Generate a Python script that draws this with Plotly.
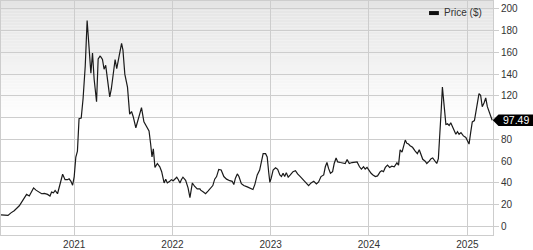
import plotly.graph_objects as go

# ---- data ----
dates = [
    "2020-04-04", "2020-04-30", "2020-05-11", "2020-05-23", "2020-06-11", "2020-06-23",
    "2020-07-08", "2020-07-18", "2020-07-27", "2020-08-03", "2020-08-12", "2020-08-24",
    "2020-09-02", "2020-09-12", "2020-09-24", "2020-10-03", "2020-10-09", "2020-10-16",
    "2020-10-22", "2020-10-31", "2020-11-06", "2020-11-19", "2020-11-28", "2020-12-07",
    "2020-12-13", "2020-12-20", "2020-12-26", "2021-01-01", "2021-01-07", "2021-01-13",
    "2021-01-19", "2021-01-27", "2021-02-03", "2021-02-11", "2021-02-18", "2021-02-25",
    "2021-03-04", "2021-03-10", "2021-03-16", "2021-03-25", "2021-03-31", "2021-04-07",
    "2021-04-10", "2021-04-16", "2021-04-22", "2021-04-28", "2021-05-05", "2021-05-13",
    "2021-05-19", "2021-05-27", "2021-06-02", "2021-06-08", "2021-06-17", "2021-06-26",
    "2021-07-01", "2021-07-08", "2021-07-18", "2021-07-26", "2021-08-02", "2021-08-08",
    "2021-08-18", "2021-08-30", "2021-09-08", "2021-09-17", "2021-09-26", "2021-10-06",
    "2021-10-12", "2021-10-17", "2021-10-22", "2021-10-28", "2021-11-06", "2021-11-15",
    "2021-11-22", "2021-12-01", "2021-12-07", "2021-12-13", "2021-12-22", "2021-12-28",
    "2022-01-04", "2022-01-10", "2022-01-17", "2022-01-23", "2022-01-29", "2022-02-03",
    "2022-02-09", "2022-02-19", "2022-02-28", "2022-03-07", "2022-03-16", "2022-03-24",
    "2022-04-03", "2022-04-13", "2022-04-16", "2022-04-26", "2022-05-04", "2022-05-13",
    "2022-05-23", "2022-05-31", "2022-06-07", "2022-06-14", "2022-06-22", "2022-07-01",
    "2022-07-11", "2022-07-21", "2022-08-02", "2022-08-11", "2022-08-17", "2022-08-23",
    "2022-08-30", "2022-09-05", "2022-09-14", "2022-09-23", "2022-10-06", "2022-10-18",
    "2022-10-27", "2022-11-03", "2022-11-12", "2022-11-21", "2022-11-28", "2022-12-04",
    "2022-12-13", "2022-12-19", "2022-12-25", "2022-12-29", "2023-01-03", "2023-01-10",
    "2023-01-19", "2023-01-27", "2023-02-04", "2023-02-10", "2023-02-16", "2023-02-22",
    "2023-02-28", "2023-03-07", "2023-03-15", "2023-03-25", "2023-04-03", "2023-04-11",
    "2023-04-21", "2023-05-04", "2023-05-14", "2023-05-22", "2023-05-31", "2023-06-10",
    "2023-06-20", "2023-06-28", "2023-07-07", "2023-07-17", "2023-07-23", "2023-07-29",
    "2023-08-04", "2023-08-11", "2023-08-19", "2023-08-25", "2023-09-01", "2023-09-07",
    "2023-09-17", "2023-09-27", "2023-10-05", "2023-10-12", "2023-10-20", "2023-10-30",
    "2023-11-09", "2023-11-18", "2023-11-27", "2023-12-04", "2023-12-12", "2023-12-18",
    "2023-12-25", "2024-01-02", "2024-01-09", "2024-01-16", "2024-01-25", "2024-02-02",
    "2024-02-12", "2024-02-18", "2024-02-24", "2024-03-02", "2024-03-10", "2024-03-18",
    "2024-03-26", "2024-04-04", "2024-04-14", "2024-04-20", "2024-04-24", "2024-04-26",
    "2024-05-03", "2024-05-08", "2024-05-15", "2024-05-21", "2024-05-27", "2024-06-02",
    "2024-06-11", "2024-06-21", "2024-06-29", "2024-07-06", "2024-07-13", "2024-07-19",
    "2024-07-28", "2024-08-03", "2024-08-12", "2024-08-19", "2024-08-25", "2024-08-31",
    "2024-09-09", "2024-09-15", "2024-09-22", "2024-09-26", "2024-09-30", "2024-10-06",
    "2024-10-13", "2024-10-19", "2024-10-25", "2024-10-31", "2024-11-06", "2024-11-12",
    "2024-11-19", "2024-11-25", "2024-12-01", "2024-12-08", "2024-12-17", "2024-12-26",
    "2025-01-02", "2025-01-07", "2025-01-13", "2025-01-19", "2025-01-27", "2025-02-02",
    "2025-02-08", "2025-02-13", "2025-02-19", "2025-02-25", "2025-03-04", "2025-03-10",
    "2025-03-16", "2025-03-22", "2025-03-29", "2025-04-03",
]
prices = [
    10.5, 9.9, 12.3, 14.3, 18.8, 23.3,
    29.3, 27.8, 31.4, 35.3, 33.2, 31.4,
    29.9, 30.2, 29.3, 27.8, 31.4, 30.8,
    32.9, 29.9, 35.3, 47.8, 42.8, 42.8,
    43.6, 41.3, 37.7, 45.7, 63.7, 69.1,
    99.0, 99.6, 117.5, 147.4, 189.2, 159.3,
    140.8, 159.3, 135.4, 114.5, 154.0, 156.4,
    155.8, 153.4, 144.4, 148.0, 132.4, 119.0,
    126.5, 144.4, 153.4, 145.0, 156.4, 168.3,
    162.3, 139.9, 128.0, 103.1, 105.5, 101.0,
    90.6, 102.5, 109.1, 96.0, 92.1, 87.6,
    75.6, 63.7, 71.2, 54.1, 57.7, 54.7,
    50.2, 39.8, 43.3, 39.8, 41.3, 42.8,
    41.9, 43.3, 45.1, 42.8, 39.8, 42.8,
    45.1, 42.2, 35.3, 26.3, 39.8, 36.8,
    34.4, 34.4, 33.2, 31.4, 29.9, 32.3,
    35.3, 37.4, 43.3, 45.7, 52.3, 51.7,
    45.7, 43.3, 41.9, 41.3, 38.3, 44.2,
    48.1, 45.7, 39.2, 37.4, 36.2, 34.4,
    33.8, 38.3, 47.2, 51.7, 60.7, 66.7,
    66.7, 63.7, 48.7, 40.4, 44.2, 51.7,
    53.8, 52.3, 47.2, 45.7, 48.7, 45.7,
    49.3, 45.1, 47.2, 50.2, 51.1, 48.1,
    45.7, 42.2, 39.2, 37.4, 39.8, 41.3,
    38.9, 40.7, 45.7, 47.2, 54.7, 58.6,
    53.2, 48.7, 50.2, 57.7, 62.8, 59.2,
    58.6, 58.3, 57.7, 61.3, 57.7, 58.6,
    59.2, 59.2, 54.7, 52.6, 54.7, 52.6,
    54.1, 51.1, 48.7, 47.2, 45.7, 46.3,
    50.2, 51.1, 50.2, 54.1, 56.2, 54.1,
    55.3, 54.7, 58.3, 56.2, 68.2, 70.3,
    68.2, 74.1, 79.2, 76.2, 75.6, 74.1,
    72.6, 69.1, 66.7, 70.3, 65.2, 61.6,
    59.8, 57.7, 59.8, 62.2, 62.8, 60.7,
    57.7, 62.2, 87.6, 108.5, 128.0, 111.5,
    93.6, 94.2, 92.7, 95.1, 92.1, 87.6,
    84.6, 87.0, 84.6, 86.1, 83.1, 81.6,
    78.6, 75.6, 86.1, 96.0, 97.2, 105.5,
    114.5, 122.0, 120.5, 110.0, 113.6, 118.1,
    110.0, 105.5, 101.9, 97.49,
]
series_name = "Price ($)"
y_ticks = [0, 20, 40, 60, 80, 100, 120, 140, 160, 180, 200]
# the "100" label is hidden behind the last-value tag in the reference
y_tick_labels = ["0", "20", "40", "60", "80", "", "120", "140", "160", "180", "200"]
x_range = ["2020-04-04", "2025-04-06"]
y_range = [-8.07, 207.2]

FONT = "Liberation Sans, Arial, Helvetica, sans-serif"
GRID = "#cdcdcd"
TXT = "#333333"

fig = go.Figure()
fig.add_trace(go.Scatter(
    x=dates, y=prices, mode="lines", name=series_name,
    line=dict(color="#1a1a1a", width=1.2), showlegend=False,
))

shapes = []
# vertical gradient background at the top of the plot area
n_bands = 40
top_px, end_px, plot_h = 0.0, 125.0, 240.0
for i in range(n_bands):
    y0_px = top_px + (end_px - top_px) * i / n_bands
    y1_px = top_px + (end_px - top_px) * (i + 1) / n_bands
    t = (i + 0.5) / n_bands
    c = int(round(228 + (255 - 228) * t))
    shapes.append(dict(
        type="rect", xref="paper", yref="paper", layer="below",
        x0=0, x1=1, y0=1 - y1_px / plot_h, y1=1 - y0_px / plot_h,
        fillcolor=f"rgb({c},{c},{c})", line=dict(width=0),
    ))

# legend marker (black bar) + text
shapes.append(dict(
    type="rect", xref="paper", yref="paper", layer="above",
    x0=0.870, x1=0.890, y0=0.940, y1=0.957,
    fillcolor="#111111", line=dict(width=0),
))

# last-value tag
last = prices[-1]
span = y_range[1] - y_range[0]
yc = (last - y_range[0]) / span
hh = 6.0 / 240.0
plot_w = 493.0
xb = 1 + 5.5 / plot_w
xe = 1 + 40.5 / plot_w
shapes.append(dict(
    type="path", xref="paper", yref="paper", layer="above",
    path=f"M 0.9995,{yc} L {xb},{yc + hh} L {xe},{yc + hh} L {xe},{yc - hh} L {xb},{yc - hh} Z",
    fillcolor="#000000", line=dict(width=0),
))

annotations = [
    dict(xref="paper", yref="paper", x=0.8966, y=0.949, xanchor="left", yanchor="middle",
         text=series_name, showarrow=False, font=dict(family=FONT, size=10, color=TXT)),
    dict(xref="paper", yref="paper", x=(xb + xe) / 2, y=yc, xanchor="center", yanchor="middle",
         text=f"{last:.2f}", showarrow=False, font=dict(family=FONT, size=10.5, color="#ffffff")),
]

fig.update_layout(
    width=533, height=250,
    margin=dict(l=0, r=40, t=0, b=10, pad=0),
    paper_bgcolor="#ffffff", plot_bgcolor="rgba(0,0,0,0)",
    font=dict(family=FONT, size=10, color=TXT),
    shapes=shapes, annotations=annotations,
    showlegend=False,
)
fig.update_xaxes(
    type="date", range=x_range, tick0="2021-01-01", dtick="M12", tickformat="%Y",
    showgrid=True, gridcolor=GRID, gridwidth=1,
    showline=True, linecolor=GRID, linewidth=1, mirror=True,
    ticks="", tickfont=dict(family=FONT, size=10, color=TXT), zeroline=False,
)
fig.update_yaxes(
    side="right", range=y_range, tickvals=y_ticks, ticktext=y_tick_labels,
    showgrid=True, gridcolor=GRID, gridwidth=1,
    showline=True, linecolor=GRID, linewidth=1, mirror=True,
    ticks="outside", ticklen=5, tickcolor=GRID,
    tickfont=dict(family=FONT, size=10, color=TXT), zeroline=False,
)

fig.write_html("out.html")
